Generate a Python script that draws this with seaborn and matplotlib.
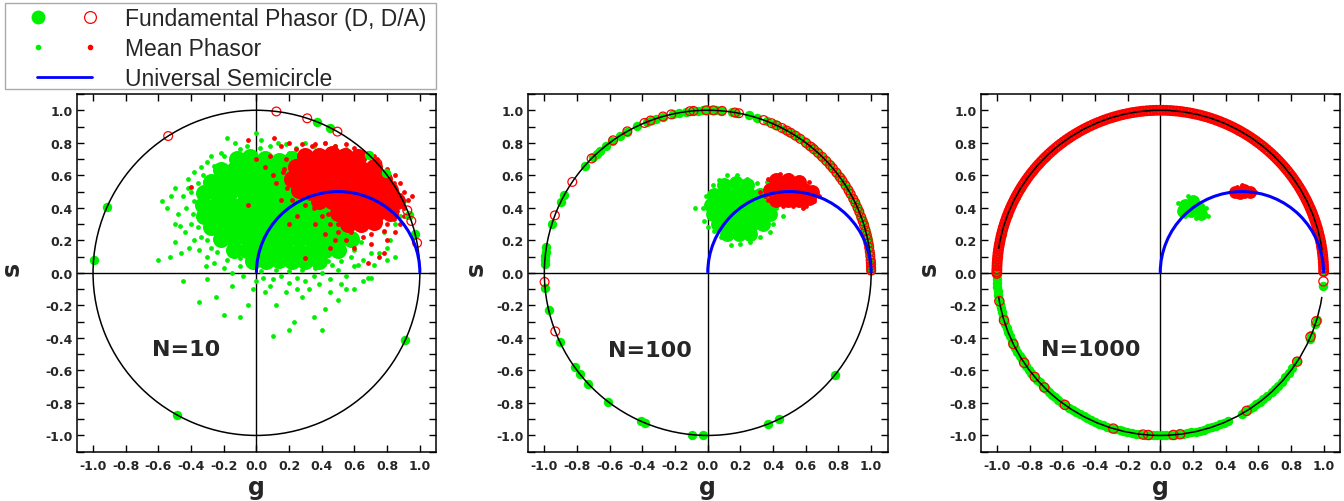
import numpy as np
import matplotlib
matplotlib.use("Agg")
import matplotlib.pyplot as plt
import seaborn as sns
from matplotlib.patches import Arc, Rectangle
from matplotlib.lines import Line2D
from matplotlib.legend_handler import HandlerTuple
from matplotlib.ticker import FixedLocator, FormatStrFormatter

# ---------------------------------------------------------------- data
TICKS = [-1.0, -0.8, -0.6, -0.4, -0.2, 0.0, 0.2, 0.4, 0.6, 0.8, 1.0]
MINOR_TICKS = [-1.1, -0.9, -0.7, -0.5, -0.3, -0.1, 0.1, 0.3, 0.5, 0.7, 0.9, 1.1]
PANEL_LABELS = ["N=10", "N=100", "N=1000"]
LEGEND_LABELS = ["Fundamental Phasor (D, D/A)", "Mean Phasor", "Universal Semicircle"]

# fundamental phasors (phase angle on the unit circle, degrees)
N10_D_PHASE = [175.6, 156.1, 240.8, 335.5, 68.3, 63.3, 46.7, 37.8, 20.8, 13.9]
N10_DA_PHASE = [122.7, 83.0, 71.9, 60.3, 42.3, 22.6, 18.6, 10.6]

N100_D_PHASE = [177, 175.5, 174, 172.5, 171, 162.7, 154, 151.5, 138.7, 134.5, 132.9,
                131.3, 128.6, 125.9, 122.5, 119.8, 115.8, 112, 110, 108.4, 106, 102.3,
                100, 97.5, 95.2, 93.4, 91.7, 90.3, 88.9, 87, 85.4, 81.4, 79.9, 75.5,
                72.5, 68.9, 66, 65.2, 62, 60, 58.5, 56.5, 54, 52, 50.5, 48.5, 46.5,
                44.5, 42.5, 41, 39, 37, 35.5, 33.5, 31.5, 30, 28, 26, 24.5, 22.5, 21,
                19, 17.5, 16, 14.5, 13, 11.5, 10, 8.5, 7, 5.5, 4, 3, 2, 1,
                185.3, 193.3, 205.3, 215.6, 218.6, 222.9, 232.4, 246, 247.5, 264.3,
                268.3, 291.7, 295.9, 321]
N100_DA_PHASE = [183.2, 201.1, 159.3, 146, 135.3, 125.4, 119.5, 112.8, 110.5, 105.9,
                 102.9, 96.3, 95, 90.5, 88, 85, 80.4, 79, 70, 67, 65, 63, 61, 59.5,
                 57.5, 55.5, 53, 51, 49.5, 47.5, 45.5, 43.5, 41.5, 40, 38, 36, 34.5,
                 32.5, 30.5, 29, 27, 25.5, 23.5, 22, 20, 18.5, 17, 15, 13.5, 12, 10.5,
                 9, 7.5, 6, 4.5, 3.5, 2.5, 1.5, 0.8]

N1000_D_PHASE = [1, 4.5, 8, 11, 15, 18.5, 22, 26, 29, 33, 36.5, 40, 43, 47, 50.5, 54,
                 57, 61, 64.5, 68, 71, 75, 78.5, 82, 85, 89, 92.5, 96, 99, 103, 106.5,
                 110, 113, 117, 120.5, 124, 127, 131, 134.5, 138, 141, 145, 148.5, 152,
                 155, 159, 162.5, 166, 169, 172, 174.5, 176.5, 178.5,
                 180.5, 182, 183.6, 185, 186.4, 188, 189.5, 191, 192.4, 194, 195.6, 197,
                 198.5, 200, 201.4, 203, 204.6, 206, 207.5, 209, 210.6, 212, 213.4, 215,
                 216.5, 218, 219.6, 221, 222.4, 224, 225.5, 227, 228.6, 230, 231.4, 233,
                 234.5, 236, 237.6, 239, 240.4, 242, 243.5, 245, 246.6, 248, 249.4, 251,
                 252.5, 254, 255.6, 257, 258.4, 260, 261.5, 263, 264.6, 266, 267.4, 269,
                 270.5, 272, 273.6, 275, 276.4, 278, 279.5, 281, 282.6, 284, 285.4, 287,
                 288.5, 290, 291.6, 293, 294.5, 300, 301.5, 303, 304.6, 306, 307.5, 309,
                 311, 313, 314.5, 316, 318, 320, 322, 324, 327, 336, 337.5, 341.5, 343,
                 355.5]
# D/A phasors of N=1000: dense band on the upper half, isolated ones below
N1000_DA_PHASE_UPPER = [
    0.4, 1.5, 2.7, 3.8, 5.0, 6.1, 7.3, 8.5, 9.6, 10.8, 12.0, 13.1, 14.3,
    15.5, 16.6, 17.8, 19.0, 20.1, 21.3, 22.5, 23.6, 24.8, 26.0, 27.1, 28.3,
    29.5, 30.6, 31.8, 33.0, 34.1, 35.3, 36.5, 37.6, 38.8, 40.0, 41.1, 42.3,
    43.5, 44.6, 45.8, 47.0, 48.1, 49.3, 50.5, 51.6, 52.8, 54.0, 55.1, 56.3,
    57.5, 58.6, 59.8, 61.0, 62.1, 63.3, 64.5, 65.6, 66.8, 68.0, 69.1, 70.3,
    71.5, 72.6, 73.8, 75.0, 76.1, 77.3, 78.5, 79.6, 80.8, 82.0, 83.1, 84.3,
    85.5, 86.6, 87.8, 89.0, 90.1, 91.3, 92.5, 93.6, 94.8, 96.0, 97.1, 98.3,
    99.5, 100.6, 101.8, 103.0, 104.1, 105.3, 106.5, 107.6, 108.8, 110.0,
    111.1, 112.3, 113.5, 114.6, 115.8, 117.0, 118.1, 119.3, 120.5, 121.6,
    122.8, 124.0, 125.1, 126.3, 127.5, 128.6, 129.8, 131.0, 132.1, 133.3,
    134.5, 135.6, 136.8, 138.0, 139.1, 140.3, 141.5, 142.6, 143.8, 145.0,
    146.1, 147.3, 148.5, 149.6, 150.8, 152.0, 153.1, 154.3, 155.5, 156.6,
    157.8, 159.0, 160.1, 161.3, 162.5, 163.6, 164.8, 166.0, 167.1, 168.3,
    169.5, 170.6, 171.8, 173.0, 174.1, 175.3, 176.5, 177.6, 178.8, 179.8]
N1000_DA_PHASE_LOWER = [180.3, 190, 197, 206, 213.6, 219.8, 224.8, 234.3, 253.3, 264,
                        265.8, 274.6, 277, 301.9, 326.9, 336.8, 342.7, 357]

# mean phasors (g, s): dense core and sparse outskirts of each cloud
N10_D_MEAN_DENSE = [
    (-0.12, 0.70), (-0.04, 0.71), (0.05, 0.70), (0.14, 0.69), (0.22, 0.70),
    (-0.22, 0.63), (-0.14, 0.63), (-0.06, 0.64), (0.02, 0.63), (0.10, 0.63), (0.18, 0.62), (0.26, 0.63), (0.33, 0.63),
    (-0.28, 0.56), (-0.20, 0.56), (-0.12, 0.57), (-0.03, 0.56), (0.06, 0.56), (0.14, 0.55), (0.22, 0.56), (0.30, 0.56), (0.38, 0.56),
    (-0.32, 0.49), (-0.24, 0.49), (-0.16, 0.50), (-0.07, 0.49), (0.01, 0.49), (0.09, 0.48), (0.17, 0.49), (0.25, 0.49), (0.33, 0.49), (0.41, 0.49),
    (-0.33, 0.42), (-0.25, 0.42), (-0.17, 0.43), (-0.09, 0.42), (-0.01, 0.42), (0.07, 0.41), (0.15, 0.42), (0.23, 0.42), (0.31, 0.42), (0.39, 0.42), (0.47, 0.42),
    (-0.32, 0.35), (-0.24, 0.35), (-0.16, 0.36), (-0.08, 0.35), (0.00, 0.35), (0.08, 0.34), (0.16, 0.35), (0.24, 0.35), (0.32, 0.35), (0.40, 0.35), (0.48, 0.35),
    (-0.28, 0.28), (-0.20, 0.28), (-0.12, 0.29), (-0.04, 0.28), (0.04, 0.28), (0.12, 0.27), (0.20, 0.28), (0.28, 0.28), (0.36, 0.28), (0.44, 0.28), (0.52, 0.28),
    (-0.22, 0.21), (-0.14, 0.21), (-0.06, 0.22), (0.02, 0.21), (0.10, 0.21), (0.18, 0.20), (0.26, 0.21), (0.34, 0.21), (0.42, 0.21), (0.50, 0.21), (0.58, 0.21),
    (-0.14, 0.14), (-0.06, 0.14), (0.02, 0.15), (0.10, 0.14), (0.18, 0.14), (0.26, 0.13), (0.34, 0.14), (0.42, 0.14), (0.50, 0.14),
    (-0.02, 0.07), (0.06, 0.07), (0.14, 0.08), (0.22, 0.07), (0.30, 0.07), (0.38, 0.07),
]
N10_D_MEAN_SPARSE = [
    (-0.18, 0.83), (-0.13, 0.80), (-0.06, 0.78), (0.00, 0.86), (0.03, 0.82), (0.08, 0.78),
    (0.13, 0.80), (0.18, 0.79), (0.24, 0.77), (0.30, 0.80), (0.35, 0.78), (0.28, 0.72),
    (-0.22, 0.74), (-0.28, 0.72), (-0.30, 0.68), (-0.34, 0.65), (-0.38, 0.62), (-0.42, 0.58),
    (-0.40, 0.50), (-0.45, 0.47), (-0.43, 0.40), (-0.48, 0.36), (-0.40, 0.30), (-0.44, 0.25),
    (-0.38, 0.20), (-0.35, 0.14), (-0.30, 0.10), (-0.26, 0.06), (-0.20, 0.03), (-0.15, 0.00),
    (-0.50, 0.52), (-0.55, 0.40), (-0.58, 0.44), (-0.60, 0.08), (-0.50, 0.19), (-0.50, 0.30),
    (-0.53, 0.10), (-0.46, 0.12), (-0.45, -0.05), (-0.35, -0.18), (-0.08, -0.02), (-0.10, 0.04),
    (0.00, -0.05), (0.04, -0.03), (0.10, -0.04), (0.15, -0.02), (0.20, -0.06), (0.25, -0.03),
    (0.30, -0.05), (0.35, -0.02), (0.40, 0.00), (0.45, -0.04), (0.50, 0.02), (0.55, -0.02),
    (0.60, 0.04), (0.65, 0.08), (0.70, 0.12), (0.75, 0.12), (0.68, -0.03), (0.80, 0.08),
    (-0.25, -0.15), (-0.20, -0.26), (-0.10, -0.27), (-0.05, -0.20), (-0.02, -0.10), (0.05, -0.12),
    (0.10, -0.39), (0.12, -0.20), (0.18, -0.12), (0.20, -0.35), (0.23, -0.30), (0.28, -0.15),
    (0.32, -0.10), (0.35, -0.27), (0.40, -0.35), (0.42, -0.22), (0.45, -0.12), (0.50, -0.17),
    (0.55, -0.10), (0.60, -0.10), (0.65, -0.05), (0.82, 0.20), (0.78, 0.25), (0.85, 0.30),
    (0.88, 0.35), (0.90, 0.44), (0.82, 0.42), (0.86, 0.50), (0.80, 0.55), (0.75, 0.62),
    (0.70, 0.68), (0.62, 0.72), (0.55, 0.76), (0.48, 0.78), (0.42, 0.80), (0.72, 0.05),
    (0.80, 0.15), (0.85, 0.10), (0.62, 0.05), (0.70, -0.03), (0.58, 0.10), (-0.36, 0.55),
    (-0.26, 0.66), (-0.38, 0.44), (-0.36, 0.28), (-0.30, 0.20), (-0.24, 0.13), (0.46, 0.05),
    (-0.20, 0.72), (-0.10, 0.76), (0.02, 0.77), (0.20, 0.74), (-0.33, 0.60), (-0.39, 0.36),
    (-0.34, 0.22), (-0.28, 0.15), (-0.18, 0.08), (-0.10, 0.09), (0.03, 0.01), (0.12, 0.02),
    (0.20, 0.01), (0.28, 0.02), (0.36, 0.03), (0.44, 0.07), (0.52, 0.07), (0.60, 0.14),
    (0.64, 0.19), (-0.42, 0.52), (-0.47, 0.29), (-0.41, 0.15), (-0.31, 0.04), (0.08, -0.08),
    (0.25, -0.10), (0.38, -0.07), (0.52, -0.07), (-0.15, -0.08), (-0.30, -0.04), (-0.52, 0.47),
]
N10_DA_MEAN_DENSE = [
    (0.30, 0.72), (0.38, 0.72), (0.46, 0.73), (0.54, 0.72), (0.62, 0.71),
    (0.24, 0.65), (0.32, 0.65), (0.40, 0.66), (0.48, 0.65), (0.56, 0.65), (0.64, 0.64), (0.72, 0.65),
    (0.22, 0.58), (0.30, 0.58), (0.38, 0.59), (0.46, 0.58), (0.54, 0.58), (0.62, 0.57), (0.70, 0.58), (0.78, 0.58),
    (0.26, 0.51), (0.34, 0.51), (0.42, 0.52), (0.50, 0.51), (0.58, 0.51), (0.66, 0.50), (0.74, 0.51), (0.82, 0.51),
    (0.38, 0.44), (0.46, 0.44), (0.54, 0.45), (0.62, 0.44), (0.70, 0.44), (0.78, 0.43), (0.86, 0.44),
    (0.50, 0.37), (0.58, 0.37), (0.66, 0.38), (0.74, 0.37), (0.82, 0.37),
    (0.56, 0.30), (0.64, 0.30), (0.72, 0.31),
]
N10_DA_MEAN_SPARSE = [
    (0.15, 0.78), (0.20, 0.80), (0.28, 0.79), (0.34, 0.78), (0.42, 0.80), (0.48, 0.78),
    (0.55, 0.79), (0.60, 0.77), (0.68, 0.74), (0.74, 0.70), (0.80, 0.64), (0.85, 0.60),
    (0.88, 0.55), (0.90, 0.50), (0.93, 0.45), (0.90, 0.40), (0.88, 0.30), (0.85, 0.25),
    (0.80, 0.20), (0.78, 0.12), (0.70, 0.18), (0.65, 0.22), (0.60, 0.15), (0.55, 0.20),
    (0.50, 0.25), (0.45, 0.30), (0.40, 0.35), (0.35, 0.40), (0.30, 0.42), (0.25, 0.35),
    (0.20, 0.30), (0.15, 0.45), (0.12, 0.55), (0.10, 0.60), (0.05, 0.65), (0.00, 0.70),
    (-0.05, 0.82), (0.11, 0.83), (-0.40, 0.53), (-0.05, 0.42), (0.30, 0.09), (0.45, 0.15),
    (0.62, 0.28), (0.16, 0.62), (0.18, 0.70), (0.08, 0.72), (0.42, 0.24), (0.52, 0.32),
    (0.36, 0.30), (0.74, 0.28), (0.68, 0.33), (0.95, 0.47), (0.75, 0.10), (0.68, 0.06),
    (0.22, 0.45), (0.28, 0.60), (0.86, 0.38), (0.80, 0.30), (0.58, 0.25), (0.48, 0.20),
    (0.24, 0.76), (0.36, 0.79), (0.66, 0.70), (0.72, 0.72), (0.84, 0.55), (0.88, 0.48),
    (0.90, 0.35), (0.84, 0.33), (0.78, 0.26), (0.70, 0.24), (0.50, 0.30), (0.44, 0.36),
    (0.32, 0.46), (0.19, 0.52), (0.17, 0.64),
]

N100_D_MEAN_DENSE = [
    (0.10, 0.54), (0.17, 0.55), (0.24, 0.54),
    (0.04, 0.48), (0.11, 0.48), (0.18, 0.49), (0.25, 0.48), (0.32, 0.48),
    (0.02, 0.42), (0.09, 0.42), (0.16, 0.42), (0.23, 0.43), (0.30, 0.42), (0.37, 0.42),
    (0.03, 0.36), (0.10, 0.36), (0.17, 0.36), (0.24, 0.36), (0.31, 0.37), (0.38, 0.36),
    (0.06, 0.30), (0.13, 0.30), (0.20, 0.30), (0.27, 0.30), (0.34, 0.30),
    (0.12, 0.24), (0.19, 0.24), (0.26, 0.24),
]
N100_D_MEAN_SPARSE = [
    (0.12, 0.60), (0.18, 0.60), (0.24, 0.58), (0.30, 0.55), (0.35, 0.50), (0.40, 0.45),
    (0.42, 0.40), (0.46, 0.35), (0.40, 0.30), (0.38, 0.25), (0.32, 0.22), (0.26, 0.19),
    (0.20, 0.18), (0.14, 0.17), (0.08, 0.22), (0.04, 0.26), (-0.02, 0.32), (-0.03, 0.40),
    (-0.08, 0.40), (-0.01, 0.47), (0.03, 0.54), (0.07, 0.57), (0.36, 0.56), (0.00, 0.28),
]
N100_DA_MEAN_DENSE = [
    (0.42, 0.57), (0.49, 0.57), (0.56, 0.56),
    (0.38, 0.51), (0.45, 0.51), (0.52, 0.51), (0.59, 0.51), (0.64, 0.50),
    (0.42, 0.45), (0.49, 0.45), (0.56, 0.45), (0.62, 0.46),
]
N100_DA_MEAN_SPARSE = [
    (0.37, 0.58), (0.44, 0.61), (0.50, 0.60), (0.57, 0.58), (0.62, 0.56), (0.66, 0.50),
    (0.68, 0.47), (0.65, 0.44), (0.60, 0.41), (0.52, 0.41), (0.46, 0.41), (0.40, 0.43),
    (0.35, 0.47), (0.32, 0.50), (0.37, 0.45), (0.58, 0.40),
]

N1000_D_MEAN_DENSE = [(0.15, 0.42), (0.20, 0.44), (0.24, 0.40), (0.19, 0.38), (0.14, 0.38),
                      (0.25, 0.36), (0.20, 0.41)]
N1000_D_MEAN_SPARSE = [(0.12, 0.40), (0.17, 0.47), (0.28, 0.40), (0.29, 0.35), (0.11, 0.43),
                       (0.22, 0.34), (0.15, 0.35)]
N1000_DA_MEAN_DENSE = [(0.46, 0.50), (0.51, 0.51), (0.55, 0.50), (0.49, 0.49)]
N1000_DA_MEAN_SPARSE = [(0.44, 0.51), (0.58, 0.50), (0.50, 0.54), (0.52, 0.47), (0.47, 0.53),
                        (0.56, 0.48)]

# ---------------------------------------------------------------- style
GREEN, RED, BLUE = "#00f000", "#ff0000", "#0000ff"

sns.set_theme(style="ticks")
plt.rcParams["font.family"] = ["DejaVu Sans"]
plt.rcParams["axes.unicode_minus"] = False


def phasor_xy(deg):
    a = np.deg2rad(np.asarray(deg, float))
    return np.cos(a), np.sin(a)


def pts(pairs):
    arr = np.asarray(pairs, float)
    return arr[:, 0], arr[:, 1]


fig = plt.figure(figsize=(13.44, 5.02), dpi=100)
W, H = 1344, 502
panel_left = [76.7, 528.0, 980.5]
ax_w, ax_h, ax_b = 359.5, 357.7, 49.3

panels = [
    dict(d=N10_D_PHASE, da=[(N10_DA_PHASE, 40, 0.9)], dd=N10_D_MEAN_DENSE,
         ds=N10_D_MEAN_SPARSE, ad=N10_DA_MEAN_DENSE, as_=N10_DA_MEAN_SPARSE,
         dense_size=150, arcs=[(0, 360)], txt=(-0.43, -0.47), ylab_x=-0.18),
    dict(d=N100_D_PHASE, da=[(N100_DA_PHASE, 40, 0.9)], dd=N100_D_MEAN_DENSE,
         ds=N100_D_MEAN_SPARSE, ad=N100_DA_MEAN_DENSE, as_=N100_DA_MEAN_SPARSE,
         dense_size=115, arcs=[(0, 360)], txt=(-0.353, -0.477), ylab_x=-0.145),
    dict(d=N1000_D_PHASE,
         da=[(N1000_DA_PHASE_UPPER, 40, 1.5), (N1000_DA_PHASE_LOWER, 44, 0.9)],
         dd=N1000_D_MEAN_DENSE, ds=N1000_D_MEAN_SPARSE, ad=N1000_DA_MEAN_DENSE,
         as_=N1000_DA_MEAN_SPARSE, dense_size=85,
         arcs=[(8, 171.5), (188.5, 351.5)], txt=(-0.427, -0.466), ylab_x=-0.145),
]

for i, p in enumerate(panels):
    ax = fig.add_axes([panel_left[i] / W, ax_b / H, ax_w / W, ax_h / H])
    ax.axhline(0, color="black", lw=1.0, zorder=1)
    ax.axvline(0, color="black", lw=1.0, zorder=1)
    for dense, sparse, col in ((p["dd"], p["ds"], GREEN), (p["ad"], p["as_"], RED)):
        g, s = pts(dense)
        sns.scatterplot(x=g, y=s, ax=ax, color=col, s=p["dense_size"], linewidth=0,
                        zorder=2, legend=False)
        g, s = pts(sparse)
        sns.scatterplot(x=g, y=s, ax=ax, color=col, s=12, linewidth=0, zorder=2,
                        legend=False)
    g, s = phasor_xy(p["d"])
    sns.scatterplot(x=g, y=s, ax=ax, color=GREEN, s=46, linewidth=0, zorder=3,
                    legend=False)
    for phase, size, lw in p["da"]:
        g, s = phasor_xy(phase)
        sns.scatterplot(x=g, y=s, ax=ax, color=RED, facecolors="none", edgecolor=RED,
                        s=size, linewidth=lw, zorder=4, legend=False)
    for t1, t2 in p["arcs"]:
        ax.add_patch(Arc((0, 0), 2, 2, theta1=t1, theta2=t2, color="black", lw=1.1,
                         zorder=5))
    ax.add_patch(Arc((0.5, 0), 1, 1, theta1=0, theta2=180, color=BLUE, lw=2.2, zorder=6))

    ax.text(p["txt"][0], p["txt"][1], PANEL_LABELS[i], fontsize=16, fontweight="bold",
            ha="center", va="center", zorder=7)

    ax.set_xlim(-1.1, 1.1)
    ax.set_ylim(-1.1, 1.1)
    ax.xaxis.set_major_locator(FixedLocator(TICKS))
    ax.yaxis.set_major_locator(FixedLocator(TICKS))
    ax.yaxis.set_minor_locator(FixedLocator(MINOR_TICKS))
    ax.xaxis.set_major_formatter(FormatStrFormatter("%.1f"))
    ax.yaxis.set_major_formatter(FormatStrFormatter("%.1f"))
    ax.tick_params(which="both", direction="in", top=True, right=True, bottom=True,
                   left=True, length=5, width=1, color="black")
    ax.tick_params(axis="x", which="major", labelsize=9, pad=5)
    ax.tick_params(axis="y", which="major", labelsize=9, pad=3)
    for lab in ax.get_xticklabels() + ax.get_yticklabels():
        lab.set_fontweight("bold")
    for sp in ax.spines.values():
        sp.set_color("black")
        sp.set_linewidth(1.1)
    ax.set_xlabel("g", fontsize=17, fontweight="bold")
    ax.set_ylabel("s", fontsize=17, fontweight="bold")
    ax.xaxis.set_label_coords(0.5, -0.10)
    ax.yaxis.set_label_coords(p["ylab_x"], 0.515)
    ax.xaxis.label.set_va("center")
    ax.yaxis.label.set_va("center")

# ---------------------------------------------------------------- legend
h_fund = (Line2D([], [], ls="none", marker="o", ms=9, mfc=GREEN, mec=GREEN),
          Line2D([], [], ls="none", marker="o", ms=8.5, mfc="none", mec=RED, mew=0.9))
h_mean = (Line2D([], [], ls="none", marker="o", ms=3, mfc=GREEN, mec=GREEN),
          Line2D([], [], ls="none", marker="o", ms=3, mfc=RED, mec=RED))
h_semi = Line2D([], [], color=BLUE, lw=2)
fig.legend([h_fund, h_mean, h_semi], LEGEND_LABELS,
           handler_map={tuple: HandlerTuple(ndivide=None, pad=2.14)},
           loc="upper left", bbox_to_anchor=(36.7 / W, 1 - 8.0 / H),
           frameon=False, prop={"family": "Liberation Sans", "size": 16.5},
           handlelength=2.4, handletextpad=1.45, labelspacing=0.3,
           borderpad=0, borderaxespad=0)
fig.patches.append(Rectangle((5 / W, 1 - 90 / H), 431 / W, 86 / H,
                             transform=fig.transFigure, fill=False,
                             edgecolor="#aaaaaa", lw=1.0))

fig.savefig("out.png", dpi=100)
